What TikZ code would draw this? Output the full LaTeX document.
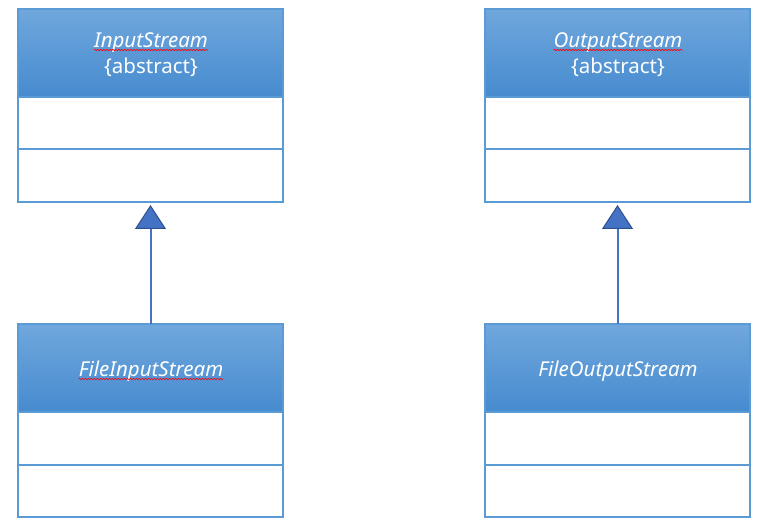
\documentclass[tikz,border=0pt]{standalone}
\usepackage{fontspec}
\setmainfont{Noto Sans}
\usetikzlibrary{arrows.meta,decorations.pathmorphing}
\definecolor{boxc}{HTML}{5B9BD5}
\definecolor{hdtop}{HTML}{70A7DD}
\definecolor{hdbot}{HTML}{468BCF}
\definecolor{linec}{HTML}{4472C4}
\definecolor{tridark}{HTML}{2F528F}
\begin{document}
\begin{tikzpicture}[x=1pt,y=-1pt,
  hdr/.style={draw=boxc, line width=1.5pt, top color=hdtop, bottom color=hdbot, minimum width=265pt, minimum height=88pt, inner sep=0pt, outer sep=0pt, anchor=north west},
  comp/.style={draw=boxc, line width=2pt, fill=white, minimum width=265pt, minimum height=52.5pt, inner sep=0pt, outer sep=0pt, anchor=north},
  ttl/.style={text=white, font=\fontsize{20.5}{22}\selectfont\itshape, inner sep=0pt},
  abs/.style={text=white, font=\fontsize{20.5}{22}\selectfont, inner sep=0pt},
  wavy/.style={draw=red, line width=0.6pt, decorate, decoration={snake, amplitude=0.7pt, segment length=3pt}},
  inh/.style={draw=linec, line width=2pt, shorten >=3pt, -{Triangle[length=24pt,width=31pt,fill=linec,color=tridark,line width=1pt]}}]
\useasboundingbox (0,0) rectangle (777,529);
% InputStream
\node[hdr] (is) at (18,9) {};
\node[comp] (isA) at (is.south) {};
\node[comp] (isB) at (isA.south) {};
\node[ttl,anchor=base] (isT) at (151,48) {InputStream};
\node[abs,anchor=base] (isS) at (151,74) {\{abstract\}};
\draw[wavy] ([yshift=-2pt]isT.base west) -- ([yshift=-2pt]isT.base east);
% OutputStream
\node[hdr] (os) at (485,9) {};
\node[comp] (osA) at (os.south) {};
\node[comp] (osB) at (osA.south) {};
\node[ttl,anchor=base] (osT) at (618,48) {OutputStream};
\node[abs,anchor=base] (osS) at (618,74) {\{abstract\}};
\draw[wavy] ([yshift=-2pt]osT.base west) -- ([yshift=-2pt]osT.base east);
% FileInputStream
\node[hdr] (fis) at (18,324) {};
\node[comp] (fisA) at (fis.south) {};
\node[comp] (fisB) at (fisA.south) {};
\node[ttl,anchor=base] (fisT) at (151,377) {FileInputStream};
\draw[wavy] ([yshift=-2pt]fisT.base west) -- ([yshift=-2pt]fisT.base east);
% FileOutputStream
\node[hdr] (fos) at (485,324) {};
\node[comp] (fosA) at (fos.south) {};
\node[comp] (fosB) at (fosA.south) {};
\node[ttl,anchor=base] (fosT) at (618,377) {FileOutputStream};
% inheritance
\draw[inh] (fis.north) -- (isB.south);
\draw[inh] (fos.north) -- (osB.south);
\end{tikzpicture}
\end{document}
